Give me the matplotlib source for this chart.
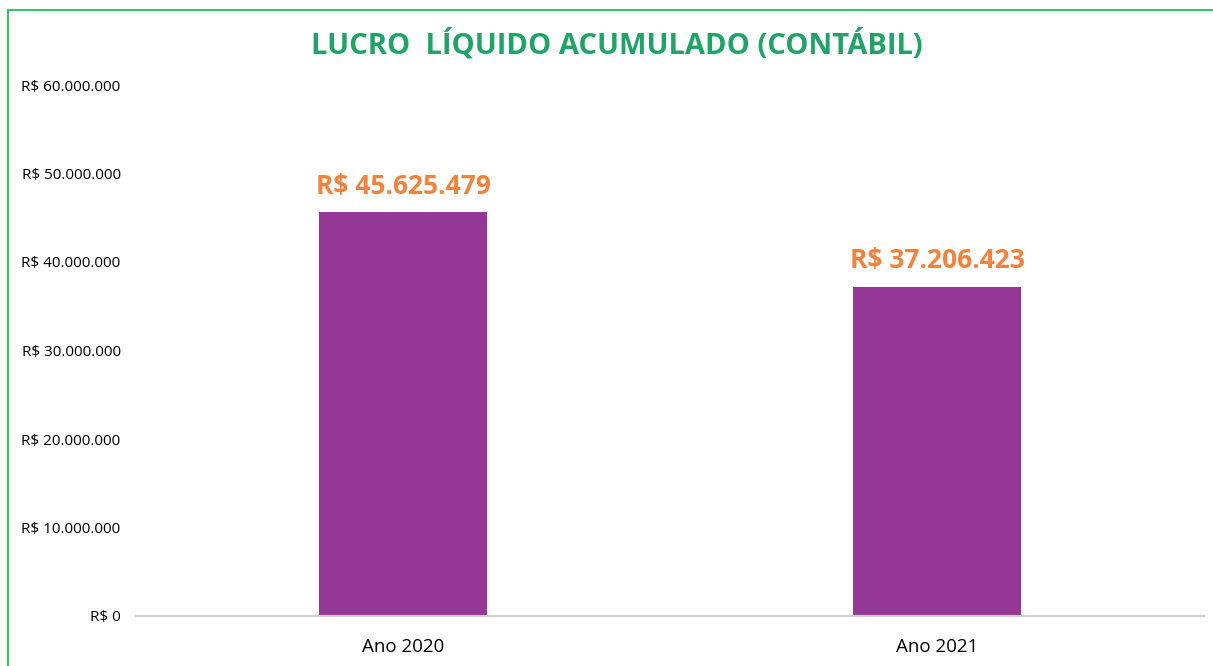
import matplotlib.pyplot as plt
from matplotlib.lines import Line2D
from matplotlib.ticker import FuncFormatter

# dados
categorias = ['Ano 2020', 'Ano 2021']
lucro = [45625479, 37206423]
y_ticks = [0, 10000000, 20000000, 30000000, 40000000, 50000000, 60000000]

def fmt_real(v, pos=None):
    return 'R$ ' + f'{int(v):,}'.replace(',', '.')

plt.rcParams['font.family'] = ['Open Sans', 'DejaVu Sans']

fig = plt.figure(figsize=(12.13, 6.66), dpi=100)
ax = fig.add_axes([136/1213, 1 - 616/666, (1204 - 136)/1213, (616 - 85)/666])

x = range(len(categorias))
barras = ax.bar(x, lucro, width=0.315, color='#953795')

for b, v in zip(barras, lucro):
    ax.annotate(fmt_real(v), (b.get_x() + b.get_width()/2, v),
                xytext=(0, 9), textcoords='offset points',
                ha='center', va='bottom', fontsize=19, fontweight='bold',
                color='#F4823C')

ax.set_xlim(-0.5, 1.5)
ax.set_ylim(0, 60000000)
ax.set_yticks(y_ticks)
ax.yaxis.set_major_formatter(FuncFormatter(fmt_real))
ax.set_xticks(list(x))
ax.set_xticklabels(categorias, fontsize=13.5)
ax.tick_params(axis='y', length=0, labelsize=11, pad=11)
ax.tick_params(axis='x', length=0, pad=16)
for s in ['top', 'right', 'left']:
    ax.spines[s].set_visible(False)
ax.spines['bottom'].set_color('#D0D0D0')
ax.spines['bottom'].set_linewidth(1.5)

fig.text(617/1213, 1 - 45/666, 'LUCRO  LÍQUIDO ACUMULADO (CONTÁBIL)',
         ha='center', va='center', fontsize=21, fontweight='bold', color='#20A465')

# moldura verde
borda = '#33C463'
fig.add_artist(Line2D([8/1213, 8/1213], [0, 1 - 10/666], color=borda, lw=1.5,
                      transform=fig.transFigure))
fig.add_artist(Line2D([8/1213, 1], [1 - 10/666, 1 - 10/666], color=borda, lw=1.5,
                      transform=fig.transFigure))

fig.savefig('out.png', dpi=100)
